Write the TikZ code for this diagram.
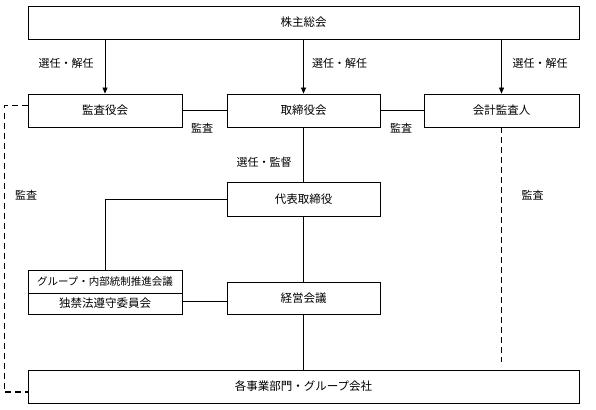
\documentclass[tikz,border=0pt]{standalone}
\usepackage{fontspec}
\setmainfont{Noto Sans CJK JP}
\usetikzlibrary{arrows.meta}

\tikzset{
  box/.style={draw, line width=0.8pt, inner sep=0pt, minimum height=33pt, font=\fontsize{11.5}{13}\selectfont},
  lbl/.style={inner sep=0pt, font=\fontsize{11}{13}\selectfont},
  audit/.style={line width=1.7pt, dash pattern=on 6pt off 4pt},
  >={Triangle[length=6pt,width=5pt]}
}

\begin{document}
\begin{tikzpicture}[x=1pt, y=-1pt, line width=0.8pt]
            \useasboundingbox (0,0) rectangle (596,409);

            \node[box, minimum width=551pt] (soukai) at (303.5, 22.5) {株主総会};

            \node[box, minimum width=154pt] (kansa) at (105, 110.5) {監査役会};
            \node[box, minimum width=153pt] (torishimari) at (303.5, 110.5) {取締役会};
            \node[box, minimum width=155pt] (kaikei) at (501.5, 110.5) {会計監査人};

            \node[box, minimum width=153pt, minimum height=34pt] (daihyo) at (303.5, 199) {代表取締役};
            \node[box, minimum width=153pt, minimum height=32pt] (keiei) at (303.5, 298) {経営会議};

            \node[box, minimum width=154pt, minimum height=23pt, font=\fontsize{10.5}{12}\selectfont] (grp) at (105, 281.5) {グループ・内部統制推進会議};
            \node[box, minimum width=154pt, minimum height=21pt] (dokkin) at (105, 303.5) {独禁法遵守委員会};

            \node[box, minimum width=551pt] (jigyo) at (303.5, 386.5) {各事業部門・グループ会社};

            % labels
            \node[lbl] (l1) at (66, 63) {選任・解任};
            \node[lbl] (l2) at (339.5, 63) {選任・解任};
            \node[lbl] (l3) at (540, 63) {選任・解任};
            \node[lbl] (l4) at (202, 128) {監査};
            \node[lbl] (l5) at (401, 128) {監査};
            \node[lbl] (l6) at (264, 162) {選任・監督};
            \node[lbl] (l7) at (26, 195) {監査};
            \node[lbl] (l8) at (532.5, 195) {監査};

            \draw[->] (kansa |- soukai.south) to (kansa.north);
            \draw[->] (torishimari |- soukai.south) to (torishimari.north);
            \draw[->] (kaikei |- soukai.south) to (kaikei.north);

            \draw (kansa.east) to (torishimari.west);
            \draw (torishimari.east) to (kaikei.west);
            \draw (torishimari.south) to (daihyo.north);
            \draw (daihyo.south) to (keiei.north);
            \draw (keiei.south) to (jigyo.north -| keiei.south);
            \draw (daihyo.west) -| (grp.north);
            \draw ([yshift=2pt]dokkin.east) to ([yshift=2pt]dokkin.east -| keiei.west);

            \draw[audit] (kaikei.south) to ([yshift=8pt]jigyo.north -| kaikei.south);
            \draw[audit] ([yshift=5pt]kansa.west) -- ++(-23,0) |- ([yshift=-5.5pt]jigyo.west);
        \end{tikzpicture}
\end{document}
